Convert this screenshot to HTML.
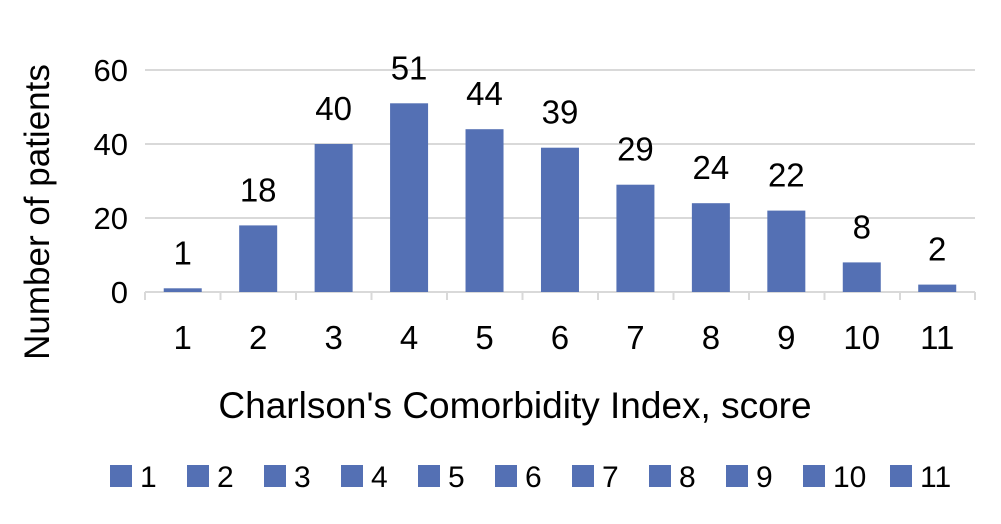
<!DOCTYPE html>
<html><head><meta charset="utf-8"><style>
body{margin:0;background:#fff;width:1001px;height:519px;overflow:hidden}
svg text{font-family:"Liberation Sans","DejaVu Sans",sans-serif;fill:#000}
</style></head><body>
<svg width="1001" height="519" xmlns="http://www.w3.org/2000/svg">
<g stroke="#d9d9d9" stroke-width="2">
<line x1="145" y1="70" x2="975" y2="70"/>
<line x1="145" y1="144" x2="975" y2="144"/>
<line x1="145" y1="218" x2="975" y2="218"/>
<line x1="145" y1="292" x2="975" y2="292"/>
<line x1="145" y1="292" x2="145" y2="300"/><line x1="220.5" y1="292" x2="220.5" y2="300"/><line x1="296" y1="292" x2="296" y2="300"/><line x1="371.5" y1="292" x2="371.5" y2="300"/><line x1="447" y1="292" x2="447" y2="300"/><line x1="522.5" y1="292" x2="522.5" y2="300"/><line x1="598" y1="292" x2="598" y2="300"/><line x1="673.5" y1="292" x2="673.5" y2="300"/><line x1="749" y1="292" x2="749" y2="300"/><line x1="824.5" y1="292" x2="824.5" y2="300"/><line x1="900" y1="292" x2="900" y2="300"/><line x1="975" y1="292" x2="975" y2="300"/>
</g>
<g font-size="31" text-anchor="end">
<text x="128" y="81">60</text><text x="128" y="155">40</text><text x="128" y="229">20</text><text x="128" y="303">0</text>
</g>
<g fill="#5470b4" id="bars"></g>
<g id="lbl" font-size="33" text-anchor="middle"></g>
<text x="0" y="0" font-size="35" text-anchor="middle" transform="translate(49,212) rotate(-90)">Number of patients</text>
<text x="515" y="418" font-size="37" text-anchor="middle">Charlson's Comorbidity Index, score</text>
<g id="leg" font-size="30"></g>
<script>
var v=[1,18,40,51,44,39,29,24,22,8,2],b=document.getElementById('bars'),l=document.getElementById('lbl'),g=document.getElementById('leg'),ns="http://www.w3.org/2000/svg";
var lx=[110,187,264,341,418,495,572,649,726,803,890];
v.forEach(function(d,i){var c=145+75.45*(i+0.5),h=d*3.7;
var r=document.createElementNS(ns,'rect');r.setAttribute('x',c-19);r.setAttribute('y',292-h);r.setAttribute('width',38);r.setAttribute('height',h);b.appendChild(r);
var t=document.createElementNS(ns,'text');t.setAttribute('x',c);t.setAttribute('y',292-h-24);t.textContent=d;l.appendChild(t);
t=document.createElementNS(ns,'text');t.setAttribute('x',c);t.setAttribute('y',349);t.textContent=i+1;l.appendChild(t);
r=document.createElementNS(ns,'rect');r.setAttribute('x',lx[i]);r.setAttribute('y',465);r.setAttribute('width',22);r.setAttribute('height',22);r.setAttribute('fill','#5470b4');g.appendChild(r);
t=document.createElementNS(ns,'text');t.setAttribute('x',lx[i]+30);t.setAttribute('y',487);t.textContent=i+1;g.appendChild(t);});
</script>
</svg>
</body></html>
